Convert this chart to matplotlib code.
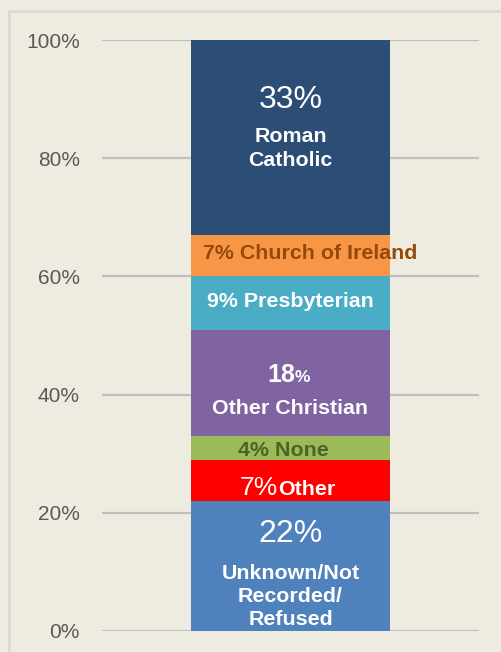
import matplotlib
matplotlib.use("Agg")
import matplotlib.pyplot as plt
from matplotlib.patches import Rectangle

plt.rcParams['font.family'] = ['Liberation Sans', 'DejaVu Sans']

# Data (bottom to top)
categories = ["Unknown/Not Recorded/Refused", "Other", "None", "Other Christian",
              "Presbyterian", "Church of Ireland", "Roman Catholic"]
values = [22, 7, 4, 18, 9, 7, 33]
colors = ["#4F81BD", "#FF0000", "#9BBB59", "#8064A2", "#4BACC6", "#F79646", "#2C4D75"]
yticks = [0, 20, 40, 60, 80, 100]
ytick_labels = ["0%", "20%", "40%", "60%", "80%", "100%"]

W, H = 501, 652
fig = plt.figure(figsize=(W / 100, H / 100), dpi=100)
bg = "#EEECE1"
fig.patch.set_facecolor(bg)

# light outer border (clipped on right/bottom)
fig.patches.append(Rectangle((9 / W, -0.1), 1.2, 1 - 10.5 / H + 0.1, transform=fig.transFigure,
                             fill=False, edgecolor="#D9D9D9", linewidth=2, zorder=0))

ax = fig.add_axes([102 / W, 1 - 631 / H, 377 / W, 591 / H])
ax.set_facecolor(bg)
ax.set_xlim(0, 1)
ax.set_ylim(0, 100)

def px(x):
    return (x - 102) / 377

bottom = 0
for v, c in zip(values, colors):
    ax.bar(0.5, v, width=199 / 377, bottom=bottom, color=c, linewidth=0, zorder=2)
    bottom += v

ax.set_yticks(yticks)
ax.set_yticklabels(ytick_labels)
ax.tick_params(axis='y', length=0, pad=16, labelsize=15, labelcolor="#595959")
ax.set_xticks([])
for s in ax.spines.values():
    s.set_visible(False)
ax.yaxis.grid(True, color="#BFBFBF", linewidth=1.6, zorder=1)
ax.set_axisbelow(True)

w = "white"
LBL = 15.4
BIG = 23
# Roman Catholic
ax.text(0.5, 89.9, "33%", ha='center', va='center', fontsize=BIG, color=w, zorder=3)
ax.text(0.5, 81.6, "Roman\nCatholic", ha='center', va='center', fontsize=LBL,
        fontweight='bold', color=w, linespacing=1.32, zorder=3)
# Church of Ireland
ax.text(px(203), 63.8, "7% Church of Ireland", ha='left', va='center', fontsize=LBL,
        fontweight='bold', color="#984807", zorder=3)
# Presbyterian
ax.text(0.5, 55.8, "9% Presbyterian", ha='center', va='center', fontsize=LBL,
        fontweight='bold', color=w, zorder=3)
# Other Christian
ax.text(px(295), 42.1, "18", ha='right', va='baseline', fontsize=18,
        fontweight='bold', color=w, zorder=3)
ax.text(px(295), 42.1, "%", ha='left', va='baseline', fontsize=12.5,
        fontweight='bold', color=w, zorder=3)
ax.text(0.5, 37.7, "Other Christian", ha='center', va='center', fontsize=LBL,
        fontweight='bold', color=w, zorder=3)
# None
ax.text(px(283), 30.5, "4% None", ha='center', va='center', fontsize=LBL,
        fontweight='bold', color="#4F6228", zorder=3)
# Other
ax.text(px(278), 23.0, "7%", ha='right', va='baseline', fontsize=19, color=w, zorder=3)
ax.text(px(278), 23.0, "Other", ha='left', va='baseline', fontsize=LBL,
        fontweight='bold', color=w, zorder=3)
# Unknown
ax.text(0.5, 16.4, "22%", ha='center', va='center', fontsize=BIG, color=w, zorder=3)
ax.text(0.5, 5.8, "Unknown/Not\nRecorded/\nRefused", ha='center', va='center', fontsize=LBL,
        fontweight='bold', color=w, linespacing=1.28, zorder=3)

fig.savefig("out.png", dpi=100, facecolor=bg)
